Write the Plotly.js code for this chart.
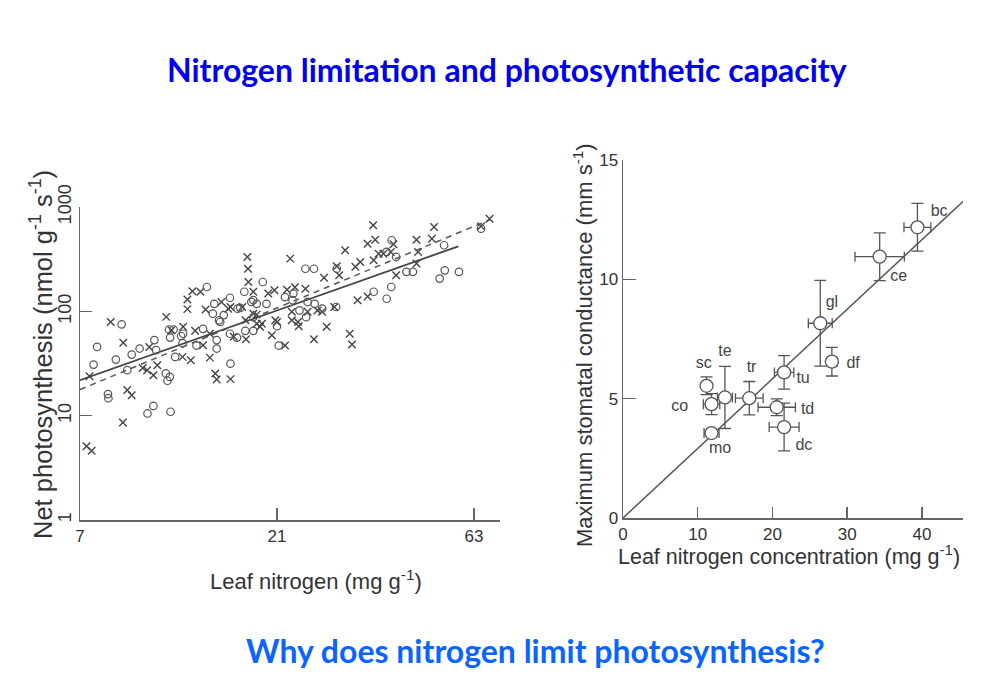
<!DOCTYPE html>
<html>
<head>
<meta charset="utf-8">
<script src="https://cdn.plot.ly/plotly-3.0.1.min.js"></script>
<style>html,body{margin:0;padding:0;background:#fff;}#chart{width:1000px;height:673px;}</style>
</head>
<body>
<div id="chart"></div>
<script>
// ---------- Left panel: net photosynthesis vs leaf nitrogen (log-log) ----------
const crossN = [7.0,7.26,7.47,7.38,8.31,8.91,9.11,9.34,8.89,10.3,9.93,10.18,10.54,10.77,11.32,11.65,12.44,12.4,12.98,12.74,12.74,13.1,13.7,14.1,13.3,13.9,14.44,14.44,14.88,15.0,16.2,15.4,16.2,16.5,17.3,17.66,17.8,17.86,17.9,18.4,18.4,18.75,19.3,20.0,20.7,20.4,21.0,21.95,22.2,22.6,22.8,23.6,23.2,24.6,24.9,25.8,26.3,27.3,27.7,29.3,29.7,30.7,31.5,31.9,32.9,33.4,34.8,34.8,35.9,36.3,36.0,37.0,38.0,40.8,45.7,46.1,50.4,49.8,45.7,68.7,65.5,39.6,17.6,19.1,20.8,18.75,16.0,32.5,22.8,27.0,28.9,23.7,40.2];
const crossA = [45.6,5.1,4.6,23.9,79,50,17.6,15.7,8.6,45.6,28.7,27.3,24.4,30.5,88.5,66,71,36.6,34,130,105,156,154,104,65,47.3,36,61,25.4,22.2,22.4,123,110,57,110,54,332,256,191,154,95,76,76,148,159,59,79,47,161,320,82,79,170,165,99,54,102,210,71,270,222,385,61,48,128,297,139,445,668,486,308,357,357,222,486,371,644,497,287,773,653,371,82,71,82,93,106,268,99,99,110,72,440];
const circN = [7.7,7.55,8.18,8.2,8.55,8.83,9.11,9.34,9.76,10.2,10.54,11.6,10.6,10.7,11.3,11.4,11.55,11.5,11.8,11.9,12.44,13.4,13.9,14.2,14.8,14.68,15.3,15.0,15.0,15.6,16.15,16.15,16.2,16.85,17.5,17.6,18.4,18.4,18.75,19.4,19.8,21.2,21.95,23.0,23.8,24.7,24.6,25.8,25.9,27.0,29.2,29.3,36.0,38.7,39.7,38.7,39.8,43.2,44.8,40.8,52.0,53.5,57.9,53.3,15.2,17.1,18.2,16.8,18.4,21.0,65.5,22.9,24.9,11.57,12.3,12.4];
const circA = [45.6,30.9,16.1,14.7,34.5,75,27.3,38.5,44,10.5,12.4,10.9,53,42.5,25.4,21.6,23.5,67,67,36.6,61,47,68,171,118,95,79,53,44,92,135,61,31.5,106,154,65,128,88,118,191,118,47,137,148,102,88,256,256,118,106,110,256,154,132,171,371,480,239,239,332,206,247,239,430,82,108,123,56,65,72,620,128,123,56,58,49.5];
// fitted lines (end points)
const fitSolidN = [7.0, 57.7];
const fitSolidA = [21.9, 420];
const fitDashN = [7.0, 68.9];
const fitDashA = [17.8, 756];
const leftXTicks = [7, 21, 63];
const leftYTicks = [1, 10, 100, 1000];

// ---------- Right panel: max stomatal conductance vs leaf N ----------
const species = ['bc','ce','gl','df','tu','tr','te','sc','co','mo','td','dc'];
const leafN   = [39.4, 34.35, 26.4, 27.95, 21.56, 16.9, 13.64, 11.18, 11.85, 11.85, 20.57, 21.56];
const gmax    = [12.18, 10.95, 8.16, 6.55, 6.1, 5.02, 5.05, 5.54, 4.77, 3.56, 4.64, 3.81];
const leafNErr = [1.8, 3.3, 1.6, 0.7, 1.3, 1.85, 1.0, 0.4, 1.1, 1.0, 2.5, 2.0];
const gmaxErr  = [1.0, 1.0, 1.8, 0.6, 0.7, 0.7, 1.3, 0.37, 0.44, 0.1, 0.35, 1.0];
const labelN   = [42.3, 36.9, 27.95, 30.8, 24.1, 17.2, 13.64, 10.8, 7.6, 13.0, 24.7, 24.2];
const labelG   = [12.83, 10.08, 9.0, 6.44, 5.83, 6.28, 6.95, 6.46, 4.67, 2.89, 4.53, 3.03];
const fitRN = [0, 45.8];
const fitRG = [0, 13.35];
const rightXTicks = [0, 10, 20, 30, 40];
const rightYTicks = [0, 5, 10, 15];

const G = '#555';
const FONT = 'Liberation Sans, Arial, sans-serif';
const traces = [
  {x: fitSolidN, y: fitSolidA, mode:'lines', line:{color:'#444', width:1.8}, xaxis:'x', yaxis:'y', hoverinfo:'skip'},
  {x: fitDashN, y: fitDashA, mode:'lines', line:{color:G, width:1.5, dash:'6px,5px'}, xaxis:'x', yaxis:'y', hoverinfo:'skip'},
  {x: crossN, y: crossA, mode:'markers', cliponaxis:false, marker:{symbol:'x-thin-open', size:7.5, line:{color:'#444', width:1.4}, color:'#444'}, xaxis:'x', yaxis:'y'},
  {x: circN, y: circA, mode:'markers', cliponaxis:false, marker:{symbol:'circle-open', size:7.5, line:{color:'#555', width:1.2}, color:'#555'}, xaxis:'x', yaxis:'y'},
  {x: fitRN, y: fitRG, mode:'lines', line:{color:G, width:1.5}, xaxis:'x2', yaxis:'y2', hoverinfo:'skip'},
  {x: leafN, y: gmax, mode:'markers', cliponaxis:false,
   marker:{symbol:'circle', size:13, color:'#fff', line:{color:G, width:1.3}},
   error_y:{type:'data', array:gmaxErr, color:G, thickness:1.3, width:6},
   error_x:{type:'data', array:leafNErr, color:G, thickness:1.3, width:5},
   xaxis:'x2', yaxis:'y2'},
  {x: labelN, y: labelG, text: species, mode:'text', cliponaxis:false, textfont:{family:FONT, size:16, color:'#444'}, xaxis:'x2', yaxis:'y2', hoverinfo:'skip'}
];

const px = v => v/1000, py = v => 1 - v/673;
const axCommon = {showgrid:false, zeroline:false, showline:true, linecolor:'#666', linewidth:1.5, ticks:'inside', tickcolor:'#666', tickwidth:1.5,
  tickfont:{family:FONT, size:17, color:'#333'}, tickmode:'array'};

const titleFont = {family:FONT, size:22, color:'#333'};
function ann(text, x, y, font, angle) {
  return {text:text, xref:'paper', yref:'paper', x:px(x), y:py(y), xanchor:'center', yanchor:'middle', showarrow:false, font:font, textangle:angle||0};
}
const layout = {
  width:1000, height:673, margin:{l:0,r:0,t:0,b:0}, paper_bgcolor:'#fff', plot_bgcolor:'rgba(0,0,0,0)', showlegend:false,
  xaxis: Object.assign({}, axCommon, {type:'log', domain:[px(80), px(500)], range:[Math.log10(7), Math.log10(72.8)], anchor:'y',
    tickvals:leftXTicks, ticktext:leftXTicks.map(String), ticklen:12}),
  yaxis: Object.assign({}, axCommon, {type:'log', domain:[py(520), py(207)], range:[0,3], anchor:'x',
    tickvals:leftYTicks, ticktext:leftYTicks.map(String), ticklen:12, tickangle:-90, tickfont:{family:FONT, size:18, color:'#333'}}),
  xaxis2: Object.assign({}, axCommon, {domain:[px(623), px(963)], range:[0,45.5], anchor:'y2',
    tickvals:rightXTicks, ticktext:rightXTicks.map(String), ticklen:11, ticklabelstandoff:0}),
  yaxis2: Object.assign({}, axCommon, {domain:[py(518), py(160)], range:[0,15], anchor:'x2',
    tickvals:rightYTicks, ticktext:rightYTicks.map(String), ticklen:13}),
  annotations:[
    ann('<b>Nitrogen limitation and photosynthetic capacity</b>', 507, 70, {family:'Lato, Open Sans, sans-serif', size:32, color:'#0000f0'}),
    ann('<b>Why does nitrogen limit photosynthesis?</b>', 535, 650, {family:'Lato, Open Sans, sans-serif', size:32, color:'#0a64ff'}),
    ann('Net photosynthesis (nmol g<sup>-1</sup> s<sup>-1</sup>)', 41, 355, Object.assign({}, titleFont, {size:25.5}), -90),
    ann('Leaf nitrogen (mg g<sup>-1</sup>)', 316, 580, titleFont),
    ann('Maximum stomatal conductance (mm s<sup>-1</sup>)', 583, 345, titleFont, -90),
    ann('Leaf nitrogen concentration (mg g<sup>-1</sup>)', 789, 555, Object.assign({}, titleFont, {size:21.5}))
  ]
};
Plotly.newPlot('chart', traces, layout, {displayModeBar:false, staticPlot:true});
</script>
</body>
</html>
